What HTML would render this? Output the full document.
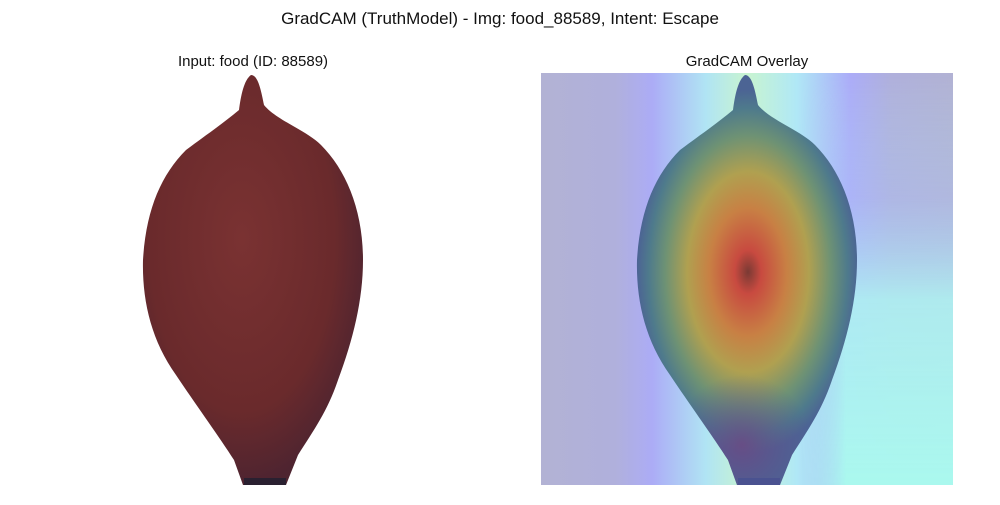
<!DOCTYPE html>
<html><head><meta charset="utf-8"><style>
body{margin:0;background:#fff;width:1000px;height:500px;overflow:hidden;font-family:"Liberation Sans","DejaVu Sans",sans-serif}
</style></head><body>
<svg width="1000" height="500" viewBox="0 0 1000 500">
<defs>
<path id="fruit" d="M745,75 C738,80 735,95 733,110 C715,125 700,135 680,150 C655,175 640,210 637,260 C636,300 645,340 670,375 C690,405 712,435 728,460 L737,485 L780,485 L792,455 C808,430 822,410 832,380 C847,340 857,300 857,260 C857,210 840,170 815,145 C800,130 770,120 758,105 C755,90 752,75 745,75 Z"/>
<radialGradient id="redfruit" cx="0.45" cy="0.4" r="0.6">
<stop offset="0" stop-color="#7a3232"/><stop offset="0.7" stop-color="#6a2a2c"/><stop offset="1" stop-color="#4e2430"/>
</radialGradient>
<linearGradient id="bgband" x1="0" y1="0" x2="1" y2="0">
<stop offset="0" stop-color="#b2b2d4"/><stop offset="0.18" stop-color="#b0b0dc"/>
<stop offset="0.27" stop-color="#acacf6"/><stop offset="0.4" stop-color="#b0e4f4"/>
<stop offset="0.5" stop-color="#c8f4d0"/><stop offset="0.62" stop-color="#b0e8f6"/>
<stop offset="0.75" stop-color="#acacf8"/><stop offset="0.85" stop-color="#b0b0dc"/><stop offset="1" stop-color="#b2b2d4"/>
</linearGradient>
<linearGradient id="cyanv" x1="0" y1="0" x2="0" y2="1">
<stop offset="0" stop-color="#aef4f2" stop-opacity="0"/><stop offset="0.3" stop-color="#acc8f8" stop-opacity="0.3"/><stop offset="0.55" stop-color="#aef4f2" stop-opacity="0.85"/><stop offset="1" stop-color="#aaf8ee" stop-opacity="1"/>
</linearGradient>
<linearGradient id="cyanh" x1="0" y1="0" x2="1" y2="0">
<stop offset="0" stop-color="#fff" stop-opacity="0"/><stop offset="0.3" stop-color="#fff" stop-opacity="1"/><stop offset="1" stop-color="#fff" stop-opacity="1"/>
</linearGradient>
<mask id="cmask"><rect x="800" y="73" width="153" height="412" fill="url(#cyanh)"/></mask>
<radialGradient id="heat" cx="748" cy="272" r="130" gradientUnits="userSpaceOnUse" gradientTransform="translate(748 272) scale(0.85 1.4) translate(-748 -272)">
<stop offset="0" stop-color="#7a3a34"/><stop offset="0.12" stop-color="#c84a40"/>
<stop offset="0.35" stop-color="#c88044"/><stop offset="0.55" stop-color="#b0a050"/>
<stop offset="0.75" stop-color="#6e9274"/><stop offset="0.9" stop-color="#4e7a8c"/><stop offset="1" stop-color="#4c6494"/>
</radialGradient>
<radialGradient id="purp" cx="742" cy="445" r="70" gradientUnits="userSpaceOnUse">
<stop offset="0" stop-color="#6a4a84" stop-opacity="0.9"/><stop offset="1" stop-color="#5a5090" stop-opacity="0"/>
</radialGradient>
<clipPath id="clipR"><use href="#fruit"/></clipPath>
</defs>
<text x="500" y="24" text-anchor="middle" font-size="17" fill="#111">GradCAM (TruthModel) - Img: food_88589, Intent: Escape</text>
<text x="253" y="66" text-anchor="middle" font-size="15" fill="#111">Input: food (ID: 88589)</text>
<text x="747" y="66" text-anchor="middle" font-size="15" fill="#111">GradCAM Overlay</text>
<g>
<use href="#fruit" transform="translate(-494 0)" fill="url(#redfruit)"/>
<rect x="244" y="478" width="42" height="7" fill="#2a2030"/>
</g>
<g>
<rect x="541" y="73" width="412" height="412" fill="url(#bgband)"/>
<rect x="800" y="73" width="153" height="412" fill="url(#cyanv)" mask="url(#cmask)"/>
<use href="#fruit" fill="url(#heat)"/>
<g clip-path="url(#clipR)"><rect x="630" y="360" width="230" height="130" fill="url(#purp)"/></g>
<rect x="738" y="478" width="42" height="7" fill="#4a5290"/>
</g>
</svg>
</body></html>
